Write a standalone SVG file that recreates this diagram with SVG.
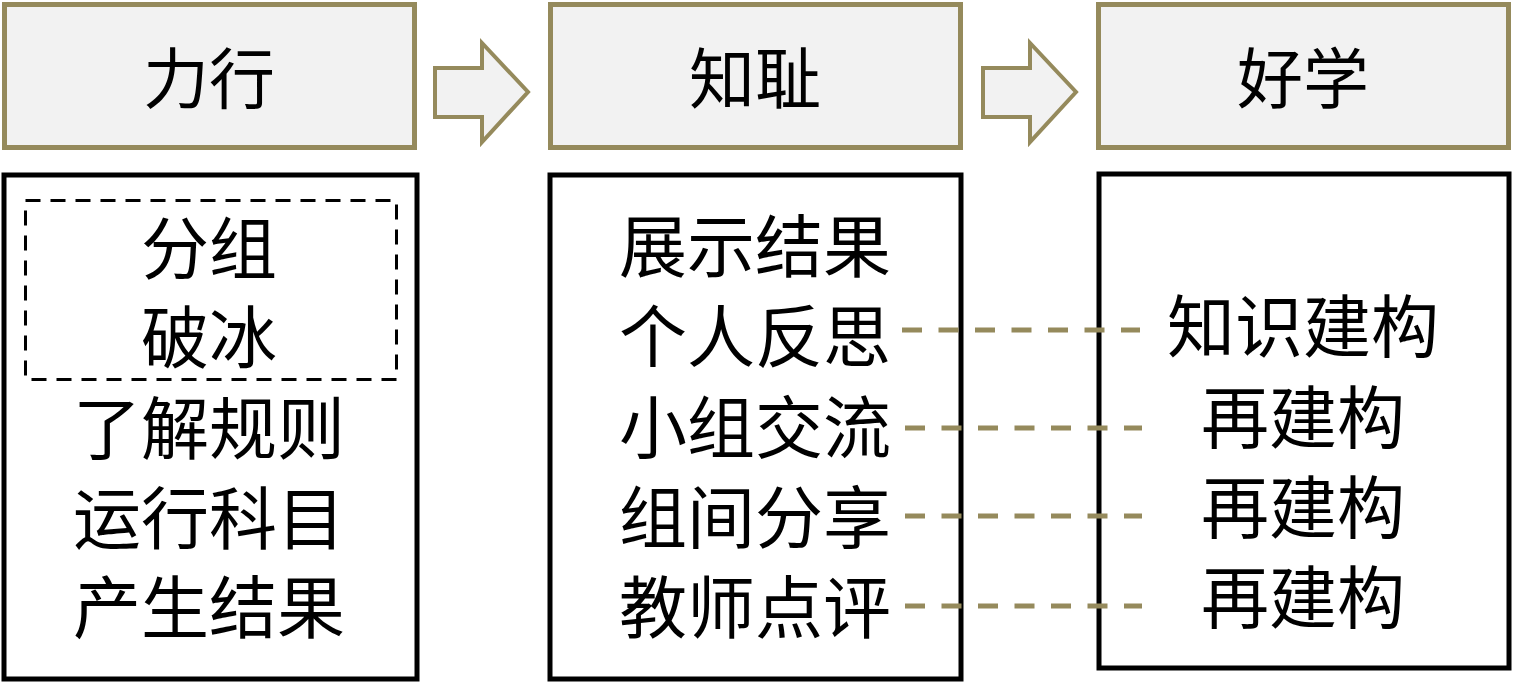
<svg xmlns="http://www.w3.org/2000/svg" width="1513" height="683" viewBox="0 0 1513 683">
<style>
.hdr{fill:#f2f2f2;stroke:#958a5c;stroke-width:5}
.body{fill:#ffffff;stroke:#000000;stroke-width:5}
.arrow{fill:#f2f2f2;stroke:#958a5c;stroke-width:4;stroke-linejoin:miter}
.dashbox{fill:none;stroke:#000000;stroke-width:3;stroke-dasharray:15 10}
.link{fill:none;stroke:#958a5c;stroke-width:5;stroke-dasharray:20 16.5}
text{font-family:"Noto Sans CJK SC","Noto Sans CJK JP",sans-serif;fill:#000000;text-anchor:middle}
.h{font-size:66px}
.t{font-size:68px}
</style>
<rect width="1513" height="683" fill="#ffffff"/>
<g id="head1"><rect class="hdr" x="4.5" y="4.5" width="410" height="143"/><text class="h" x="209" y="103">力行</text></g>
<g id="head2"><rect class="hdr" x="550.5" y="4.5" width="410" height="143"/><text class="h" x="755" y="103">知耻</text></g>
<g id="head3"><rect class="hdr" x="1098.5" y="4.5" width="410" height="143"/><text class="h" x="1303" y="103">好学</text></g>
<g id="arrows">
<polygon class="arrow" points="435,68 482,68 482,43 528,92 482,142 482,117 435,117"/>
<polygon class="arrow" points="983,68 1030,68 1030,43 1076,92 1030,142 1030,117 983,117"/>
</g>
<g id="box1"><rect class="body" x="4" y="175" width="413" height="504"/>
<rect class="dashbox" x="25.5" y="200.5" width="371" height="179"/>
<text class="t" x="209" y="274">分组</text>
<text class="t" x="209" y="363">破冰</text>
<text class="t" x="209" y="454">了解规则</text>
<text class="t" x="209" y="544">运行科目</text>
<text class="t" x="209" y="633">产生结果</text>
</g>
<g id="box2"><rect class="body" x="550" y="175" width="411" height="504"/>
<text class="t" x="755" y="272">展示结果</text>
<text class="t" x="755" y="362">个人反思</text>
<text class="t" x="755" y="453">小组交流</text>
<text class="t" x="755" y="543">组间分享</text>
<text class="t" x="755" y="633">教师点评</text>
</g>
<g id="box3"><rect class="body" x="1099" y="174" width="410" height="494"/>
<text class="t" x="1303" y="352">知识建构</text>
<text class="t" x="1303" y="443">再建构</text>
<text class="t" x="1303" y="533">再建构</text>
<text class="t" x="1303" y="623">再建构</text>
</g>
<g id="connectors">
<line class="link" x1="902" y1="330" x2="1140" y2="330"/>
<line class="link" x1="905" y1="428" x2="1142" y2="428"/>
<line class="link" x1="905" y1="516" x2="1142" y2="516"/>
<line class="link" x1="905" y1="606" x2="1142" y2="606"/>
</g>
</svg>
